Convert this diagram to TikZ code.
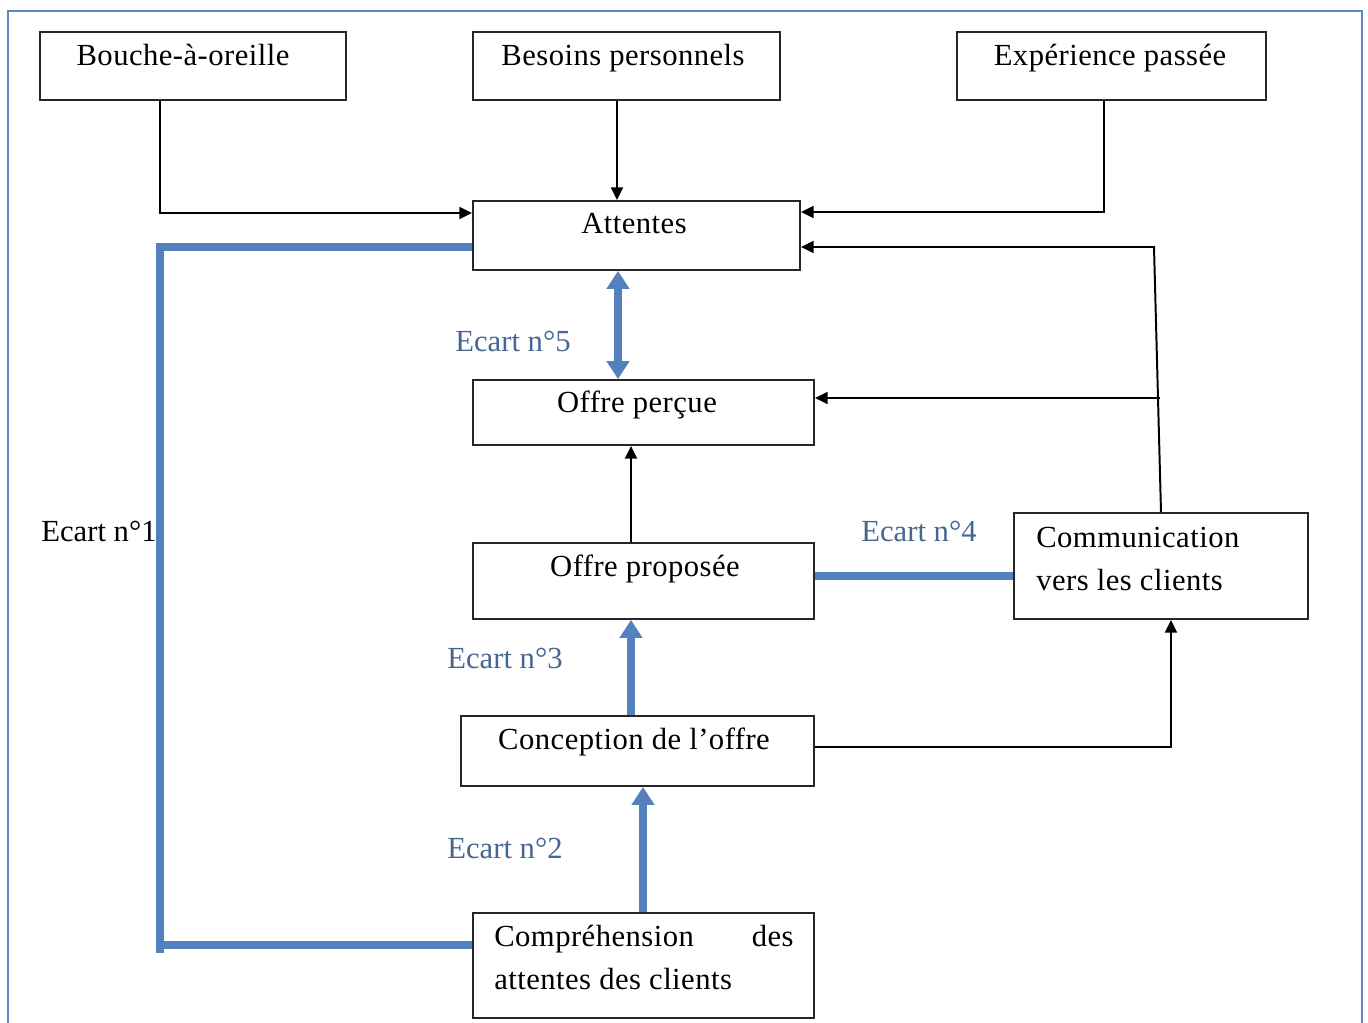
\documentclass[tikz,border=0pt]{standalone}
\usepackage{fontspec}
\setmainfont{Liberation Serif}
\usetikzlibrary{arrows.meta,fit}
\definecolor{gapblue}{RGB}{84,128,190}
\definecolor{gaptext}{RGB}{72,102,146}
\definecolor{framecol}{RGB}{92,134,196}
\begin{document}
\begin{tikzpicture}[x=0.025cm,y=-0.025cm,
  box/.style={draw=black!85,line width=1.3pt,inner sep=0pt},
  txt/.style={inner sep=0pt,font=\fontsize{21.8}{26}\selectfont\addfontfeatures{LetterSpace=1.5},anchor=base},
  lbl/.style={inner sep=0pt,font=\fontsize{21.8}{26}\selectfont,anchor=base,text=gaptext},
  arr/.style={draw=black,line width=1.4pt,-{Triangle[length=0.32cm,width=0.3cm]}},
  gap/.style={draw=gapblue,line width=5pt},
  gaparr/.style={gap,-{Triangle[length=0.45cm,width=0.55cm]}},
  gapboth/.style={gap,{Triangle[length=0.45cm,width=0.55cm]}-{Triangle[length=0.45cm,width=0.55cm]}}]
\useasboundingbox (0,0) rectangle (1368,1023);
% outer frame
\draw[framecol,line width=1.4pt] (8,1030) -- (8,11) -- (1362,11) -- (1362,1030);

% boxes
\node[box,fit={(40,32) (346,100)}]    (bou) {};
\node[box,fit={(473,32) (780,100)}]   (bes) {};
\node[box,fit={(957,32) (1266,100)}]  (exp) {};
\node[box,fit={(473,201) (800,270)}]  (att) {};
\node[box,fit={(473,380) (814,445)}]  (perc) {};
\node[box,fit={(473,543) (814,619)}]  (prop) {};
\node[box,fit={(1014,513) (1308,619)}] (com) {};
\node[box,fit={(461,716) (814,786)}]  (conc) {};
\node[box,fit={(473,913) (814,1018)}] (comp) {};

% box texts
\node[txt] (tbou) at (183,66) {Bouche-à-oreille};
\node[txt] (tbes) at (623,66) {Besoins personnels};
\node[txt] (texp) at (1110,66) {Expérience passée};
\node[txt] (tatt) at (634,234) {Attentes};
\node[txt] (tperc) at (637,413) {Offre perçue};
\node[txt] (tprop) at (645,576) {Offre proposée};
\node[txt,anchor=base west] (tcom1) at (1036,547) {Communication};
\node[txt,anchor=base west] (tcom2) at (1036,590) {vers les clients};
\node[txt] (tconc) at (634,749) {Conception de l’offre};
\node[txt,anchor=base west] (tcomp1) at (494,946) {\hbox to 7.48cm{Compréhension\hfill des}};
\node[txt,anchor=base west] (tcomp2) at (494,989) {attentes des clients};

% gap labels
\node[lbl] (e5) at (513,352) {Ecart n°5};
\node[lbl] (e3) at (505,668) {Ecart n°3};
\node[lbl] (e2) at (505,858) {Ecart n°2};
\node[lbl] (e4) at (919,541) {Ecart n°4};
\node[lbl,text=black] (e1) at (99,541) {Ecart n°1};

% routing points
\coordinate (c1) at (160,213);
\coordinate (c2) at (617,0);
\coordinate (c3) at (1104,212);
\coordinate (c4) at (1154,247);
\coordinate (c4b) at (1161,0);
\coordinate (c5) at (1160,398);
\coordinate (c6) at (631,0);
\coordinate (c7) at (1171,747);
\coordinate (c8) at (160,247);
\coordinate (c9) at (160,953);
\coordinate (c10) at (160,945);
\coordinate (c11) at (618,0);
\coordinate (c12) at (631,0);
\coordinate (c13) at (643,0);
\coordinate (c14) at (0,576);

% black connectors
\draw[arr] (bou.south -| c1) -- (c1) -- (att.west |- c1);
\draw[arr] (bes.south -| c2) -- (att.north -| c2);
\draw[arr] (exp.south -| c3) -- (c3) -- (att.east |- c3);
\draw[arr] (com.north -| c4b) -- (c4) -- (att.east |- c4);
\draw[arr] (c5) -- (perc.east |- c5);
\draw[arr] (prop.north -| c6) -- (perc.south -| c6);
\draw[arr] (conc.east |- c7) -- (c7) -- (com.south -| c7);

% gap connectors
\draw[gap] (att.west |- c8) -- (c8) -- (c9);
\draw[gap] (c10) -- (comp.west |- c10);
\draw[gapboth] (att.south -| c11) -- (perc.north -| c11);
\draw[gaparr] (conc.north -| c12) -- (prop.south -| c12);
\draw[gaparr] (comp.north -| c13) -- (conc.south -| c13);
\draw[gap] (prop.east |- c14) -- (com.west |- c14);
\end{tikzpicture}
\end{document}
